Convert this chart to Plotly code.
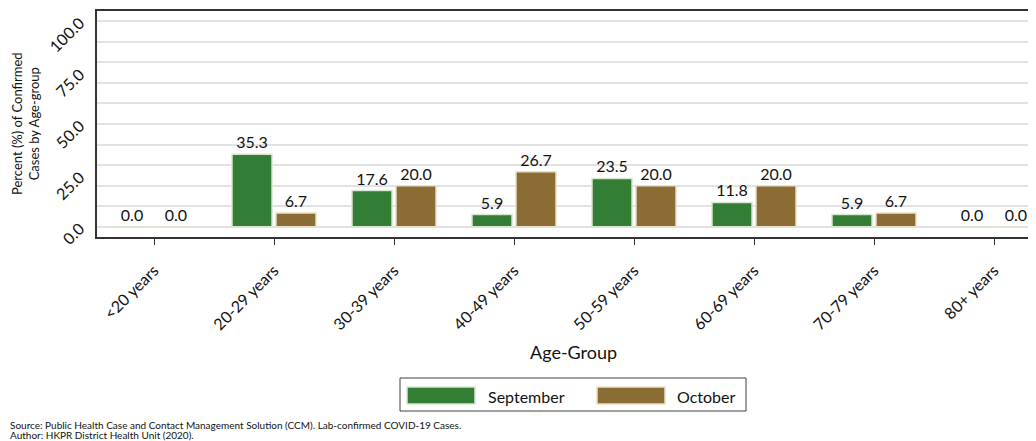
import plotly.graph_objects as go

categories = ["<20 years", "20-29 years", "30-39 years", "40-49 years",
              "50-59 years", "60-69 years", "70-79 years", "80+ years"]
september = [0.0, 35.3, 17.6, 5.9, 23.5, 11.8, 5.9, 0.0]
october = [0.0, 6.7, 20.0, 26.7, 20.0, 20.0, 6.7, 0.0]
series_names = ["September", "October"]
series_colors = ["#347d35", "#8c6c35"]
y_ticks = [0, 25, 50, 75, 100]

FONT = "Lato"
OFF = 8  # browser body margin
W, H = 1036 - OFF, 441 - OFF
# plot area in page pixels: x 97..1036, y 11..237
L, R, T, B = 97 - OFF, 0, 11 - OFF, 441 - 237
PW, PH = W - L - R, H - T - B


def px(x):  # page pixel x -> paper
    return (x - OFF - L) / PW


def py(y):  # page pixel y -> paper
    return (H - B - (y - OFF)) / PH


fig = go.Figure()
for name, vals, col, edge in [(series_names[0], september, series_colors[0], "#d9e6d2"),
                              (series_names[1], october, series_colors[1], "#eadfc8")]:
    fig.add_trace(go.Bar(x=categories, y=vals, name=name,
                         marker=dict(color=col, line=dict(color=edge, width=1.5)),
                         texttemplate="%{y:.1f}", textposition="outside",
                         textfont=dict(size=16, color="#111", family=FONT),
                         cliponaxis=False, showlegend=False))
# invisible trace on overlay axis to render 10-unit gridlines
fig.add_trace(go.Scatter(x=categories, y=[None] * len(categories), yaxis="y2",
                         showlegend=False, hoverinfo="skip"))

shapes = [
    dict(type="rect", xref="paper", yref="paper", x0=px(400), x1=px(746), y0=py(378), y1=py(411),
         line=dict(color="#404040", width=1), fillcolor="rgba(0,0,0,0)"),
    dict(type="rect", xref="paper", yref="paper", x0=px(407), x1=px(475), y0=py(387), y1=py(404),
         line=dict(color="#d9e6d2", width=1.5), fillcolor=series_colors[0]),
    dict(type="rect", xref="paper", yref="paper", x0=px(597), x1=px(665), y0=py(387), y1=py(404),
         line=dict(color="#eadfc8", width=1.5), fillcolor=series_colors[1]),
]

annotations = [
    dict(text="Percent (%) of Confirmed<br>Cases by Age-group", xref="paper", yref="paper",
         x=px(25), y=0.5, xanchor="center", yanchor="middle", textangle=-90,
         showarrow=False, font=dict(size=13, family=FONT)),
    dict(text="Age-Group", xref="paper", yref="paper", x=px(573), y=py(352),
         xanchor="center", yanchor="middle", showarrow=False,
         font=dict(size=18, family=FONT)),
    dict(text=series_names[0], xref="paper", yref="paper", x=px(486), y=py(396),
         xanchor="left", yanchor="middle", showarrow=False, font=dict(size=16, family=FONT)),
    dict(text=series_names[1], xref="paper", yref="paper", x=px(675), y=py(396),
         xanchor="left", yanchor="middle", showarrow=False, font=dict(size=16, family=FONT)),
    dict(text="Source: Public Health Case and Contact Management Solution (CCM). Lab-confirmed COVID-19 Cases.",
         xref="paper", yref="paper", x=px(8), y=py(425),
         xanchor="left", yanchor="middle", align="left", showarrow=False,
         font=dict(size=10, family=FONT)),
    dict(text="Author: HKPR District Health Unit (2020).",
         xref="paper", yref="paper", x=px(8), y=py(435.5),
         xanchor="left", yanchor="middle", align="left", showarrow=False,
         font=dict(size=10, family=FONT)),
]

fig.update_layout(
    width=W, height=H,
    margin=dict(l=L, r=R, t=T, b=B, autoexpand=False),
    plot_bgcolor="white", paper_bgcolor="white",
    font=dict(family=FONT, color="#111"),
    barmode="group", bargap=0.267, bargroupgap=0.09,
    showlegend=False,
    xaxis=dict(range=[-0.475, 7.35], showline=True, linecolor="#333", linewidth=2,
               mirror=True, ticks="outside", ticklen=6, tickcolor="#333", tickwidth=1,
               tickangle=-45, tickfont=dict(size=16, family=FONT), ticklabelstandoff=10,
               automargin=False),
    yaxis=dict(range=[-5, 105], tickvals=y_ticks, ticktext=[f"{v:.1f}" for v in y_ticks],
               showgrid=False, zeroline=False, showline=True, linecolor="#333", linewidth=2,
               tickangle=-45, tickfont=dict(size=16, family=FONT), ticks="",
               ticklabelstandoff=12, automargin=False),
    yaxis2=dict(range=[-5, 105], overlaying="y", dtick=10, tick0=0, showgrid=True,
                gridcolor="#e2e2e2", gridwidth=2, showticklabels=False, zeroline=False,
                automargin=False),
    shapes=shapes,
    annotations=annotations,
)
fig.write_html("out.html")
